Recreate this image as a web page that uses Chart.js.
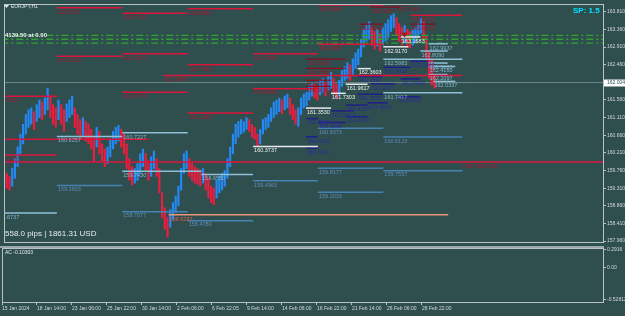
<!DOCTYPE html>
<html><head><meta charset="utf-8">
<script src="https://cdn.jsdelivr.net/npm/chart.js@4.4.0/dist/chart.umd.min.js"></script>
<style>
html,body{margin:0;padding:0;background:#2F4F4F;width:625px;height:316px;overflow:hidden}
#wrap{position:relative;width:625px;height:316px}
#c1{position:absolute;left:0;top:0}
#c2{position:absolute;left:0;top:246px}
</style></head><body>
<div id="wrap"><canvas id="c1" width="625" height="246"></canvas><canvas id="c2" width="625" height="70"></canvas></div>
<script>
// ---------- texts ----------
const symbolText = 'EURJPY,H1';
const spreadText = 'SP: 1.5';
const profitText = '558.0 pips | 1861.31 USD';
const indicatorText = 'AC -0.10303';
const tradeText = '4139.50 at 0.00';
const currentPrice = 162.004;

// ---------- axes ----------
const xTickBars = [0, 64, 128, 192, 256, 320, 384, 448, 512, 576, 640, 704, 768];
const xTickLabels = ['15 Jan 2024','18 Jan 14:00','23 Jan 06:00','25 Jan 22:00','30 Jan 14:00','2 Feb 06:00','6 Feb 22:05','9 Feb 14:00','14 Feb 06:00','16 Feb 22:00','21 Feb 14:00','26 Feb 06:00','28 Feb 22:00'];
const priceTicks = [163.81,163.36,162.91,162.46,161.56,161.11,160.66,160.21,159.76,159.31,158.86,158.41,157.96];
const acTicks = [0.2916, 0, -0.52812];
const acTickLabels = ['0.2916','0.00','-0.52812'];

// ---------- price bars (each entry spans 5 H1 bars) ----------
const candleStep = 5;
const candleHigh = [
159.76,159.69,159.61,159.81,160.06,160.36,160.69,160.94,161.19,161.31,
161.36,161.26,161.44,161.56,161.51,161.61,161.86,161.66,161.44,161.36,
161.56,161.44,161.31,161.46,161.56,161.66,161.36,161.19,161.06,161.11,
161.01,160.94,160.81,160.61,160.86,160.76,160.44,160.31,160.36,160.56,
160.76,160.86,160.91,160.81,160.69,160.44,160.06,159.86,159.81,159.94,
160.19,160.31,160.19,160.01,160.11,160.26,160.06,159.81,159.19,158.81,
158.56,158.76,158.94,159.11,159.36,159.81,160.19,160.26,160.06,159.94,
159.86,159.81,159.76,159.81,159.69,159.56,159.36,159.31,159.51,159.61,
159.69,159.76,160.06,160.36,160.69,160.94,161.01,161.06,161.01,161.11,
161.06,160.94,160.86,160.69,160.81,161.06,161.11,161.19,161.36,161.51,
161.56,161.61,161.56,161.66,161.71,161.61,161.44,161.31,161.36,161.61,
161.71,161.76,161.94,162.01,161.96,161.91,162.06,162.11,162.01,162.16,
162.26,162.11,161.96,162.06,162.31,162.41,162.51,162.46,162.61,162.76,
162.86,163.11,163.36,163.46,163.56,163.41,163.31,163.36,163.26,163.41,
163.51,163.61,163.71,163.76,163.66,163.51,163.41,163.46,163.36,163.31,
163.36,163.41,163.51,163.64,163.56,163.19,162.81,162.61,162.19];
const candleLow = [
159.44,159.31,159.26,159.36,159.56,159.86,160.19,160.44,160.69,160.86,
160.94,160.81,161.01,161.11,161.06,161.19,161.31,161.11,160.94,160.86,
161.06,160.94,160.76,161.01,161.11,161.19,160.86,160.69,160.56,160.66,
160.51,160.44,160.31,159.99,160.36,160.19,160.01,159.86,159.94,160.11,
160.31,160.44,160.51,160.36,160.19,159.81,159.51,159.39,159.44,159.51,
159.69,159.86,159.76,159.51,159.61,159.81,159.61,159.19,158.56,158.26,
158.06,158.31,158.51,158.69,158.86,159.26,159.69,159.81,159.61,159.51,
159.44,159.41,159.36,159.44,159.26,159.06,158.94,158.89,159.06,159.19,
159.26,159.36,159.56,159.86,160.19,160.44,160.61,160.69,160.74,160.81,
160.76,160.61,160.56,160.36,160.44,160.69,160.81,160.86,161.01,161.11,
161.19,161.26,161.21,161.31,161.36,161.19,161.06,160.94,160.89,161.19,
161.36,161.41,161.56,161.66,161.61,161.56,161.69,161.76,161.66,161.81,
161.86,161.71,161.61,161.69,161.91,162.06,162.11,162.06,162.21,162.36,
162.46,162.66,162.91,163.06,163.11,162.96,162.86,162.94,162.81,162.96,
163.06,163.16,163.31,163.41,163.21,163.06,162.96,163.01,162.91,162.89,
162.96,163.01,163.16,163.26,163.11,162.56,162.11,161.94,161.86];

// ---------- horizontal levels ----------
const levelPrice = [
161.6527,160.1527,158.6737,160.5600,
163.9117,162.6753,160.6257,159.3803,
163.7723,162.7377,161.7573,160.7227,159.7430,158.7077,
163.8860,162.4580,161.2280,159.6550,158.4780,
162.1843,158.6287,
162.7397,161.8483,160.3737,159.4963,
163.9853,162.9857,160.8373,159.8177,159.2033,
163.7200,160.6123,159.7557,162.5983,161.7417,
159.9758,159.9758,
163.9287,163.9900,163.4963,163.4963,162.6053,162.3650,162.0650,161.9050,
162.9170,162.3603,161.9617,161.7303,161.3530,163.1683,
162.1597,161.9727,161.7073,161.4297,161.4873,161.2813,161.1343,161.0847,160.9869,160.6200,160.3320,162.3938,162.0999,161.6430,162.5480,
162.8090,162.5023,162.4160,162.2097,162.0337,162.9937,
163.2100,163.1100,163.0100];
const levelFrom = [
-16,-16,-16,-5,
97,97,97,97,
217,217,217,217,217,217,
337,337,337,362,337,
292,302,
457,457,457,457,
576,576,576,576,576,
746,696,696,696,696,
-5,838,
673,718,651,746,554,554,554,554,
696,649,627,600,554,728,
649,673,649,627,667,600,627,554,576,554,554,696,728,722,746,
764,779,779,779,788,779,
-5,-5,-5];
const levelTo = [
97,97,97,265,
217,217,217,217,
337,337,337,337,362,337,
457,457,457,457,457,
841,815,
576,576,576,576,
696,696,696,696,696,
841,841,841,841,841,
838,1105,
728,746,695,792,627,627,600,600,
742,673,667,627,600,764,
695,718,695,667,704,642,667,576,627,576,576,746,764,764,779,
814,814,828,814,828,814,
1105,1105,1105];
const levelKind = [
'R','R','L','R',
'R','R','L','B',
'R','R','R','L','L','B',
'R','R','R','L','B',
'R','S',
'R','R','W','B',
'R','R','B','B','B',
'R','B','B','L','L',
'R','R',
'r','r','r','r','r','r','r','r',
'W','W','W','W','W','W',
'N','N','N','N','N','N','N','N','N','N','N','N','N','N','N',
'L','L','L','L','L','L',
'G','G','G'];
// null = show the level value, '' = no label
const levelLabel = [
null,null,null,'',
null,null,null,null,
null,null,null,null,null,null,
null,null,null,null,null,
null,null,
null,null,null,null,
null,null,null,null,null,
'163.9023',null,null,null,null,
'','YM3 159.9758',
null,'163.7598',null,null,null,null,null,null,
null,null,null,null,null,null,
null,null,null,null,null,null,null,null,null,null,null,null,null,null,null,
null,null,null,null,null,null,
'','',''];

// ---------- markers ----------
const arrowBar = [735];
const arrowPrice = [163.235];

// ---------- styles ----------
const UP = '#2389F5', DOWN = '#EE1C3E';
const KIND = {
  R:{line:'#DC143C', w:1.5, label:'#A8182E'},
  r:{line:'#8E0B1E', w:1.2, label:'#A01428'},
  W:{line:'#E6EAEA', w:1.5, label:'#EEF0F0'},
  L:{line:'#8EC0D8', w:1.5, label:'#86B4CC'},
  B:{line:'#4682B4', w:1.5, label:'#5F8DB6'},
  N:{line:'#1E1E8C', w:1.5, label:'#2A2AA0'},
  S:{line:'#E9967A', w:1.5, label:'#D8604A'},
  G:{line:'#2FA22F', w:1.3, label:'#2FA22F', dash:[7,3,2,3]}
};
const FG = '#B9C2C2';
const FONT = '"Liberation Sans", Arial, sans-serif';

Chart.defaults.font.family = FONT;
Chart.defaults.animation = false;

// ---------- datasets ----------
const mids = candleHigh.map((h,i)=>(h+candleLow[i])/2);
const candleColors = mids.map((m,i)=> (i===0 || m>=mids[i-1]) ? UP : DOWN);
const datasets = [];
datasets.push({
  type:'line', order:20, data:[{x:-5,y:currentPrice},{x:1105,y:currentPrice}],
  borderColor:'rgba(150,172,172,0.6)', borderWidth:1, pointRadius:0
});
datasets.push({
  type:'bar', order:10,
  data: candleHigh.map((h,i)=>({x:i*candleStep, y:[candleLow[i], h]})),
  backgroundColor: candleColors, borderWidth:0, barThickness:1.5, grouped:false
});
levelPrice.forEach((p,i)=>{
  const k = KIND[levelKind[i]];
  datasets.push({
    type:'line', order: levelKind[i]==='G' ? 3 : 1,
    data:[{x:levelFrom[i],y:p},{x:levelTo[i],y:p}],
    borderColor:k.line, borderWidth:k.w, borderDash:k.dash||[], pointRadius:0
  });
});
datasets.push({
  type:'scatter', order:0,
  data: arrowBar.map((b,i)=>({x:b,y:arrowPrice[i]})),
  pointStyle:'triangle', rotation:180, radius:3.5, backgroundColor:'#B0101E', borderWidth:0
});

const fitY = s => { s.width = 22; s.paddingTop = 0; s.paddingBottom = 0; };

const mainDecor = {
  id:'mainDecor',
  afterDatasetsDraw(chart){
    const {ctx, chartArea:a, scales:{x,y}} = chart;
    ctx.save();
    ctx.beginPath(); ctx.rect(a.left, a.top, a.right-a.left, a.bottom-a.top); ctx.clip();
    ctx.font = '5.5px ' + FONT; ctx.textBaseline = 'top'; ctx.textAlign = 'left';
    levelPrice.forEach((p,i)=>{
      let t = levelLabel[i];
      if (t === '') return;
      if (t === null) t = p.toFixed(4);
      ctx.fillStyle = KIND[levelKind[i]].label;
      ctx.fillText(t, x.getPixelForValue(levelFrom[i]) + 1, y.getPixelForValue(p) + 1.5);
    });
    ctx.restore();
  },
  afterDraw(chart){
    const {ctx, chartArea:a, scales:{y}} = chart;
    ctx.save();
    ctx.strokeStyle = FG; ctx.lineWidth = 1;
    ctx.strokeRect(a.left + 0.5, a.top + 0.5, a.right - a.left, a.bottom - a.top);
    const py = Math.round(y.getPixelForValue(currentPrice));
    ctx.fillStyle = '#FFFFFF';
    ctx.fillRect(a.right + 1, py - 3.5, 22, 7);
    ctx.fillStyle = '#2F4F4F'; ctx.font = '5px ' + FONT;
    ctx.textBaseline = 'middle'; ctx.textAlign = 'left';
    ctx.fillText(currentPrice.toFixed(3), a.right + 4, py);
    ctx.fillStyle = '#E2E6E6';
    ctx.beginPath(); ctx.moveTo(4, 5); ctx.lineTo(9, 5); ctx.lineTo(6.5, 8); ctx.closePath(); ctx.fill();
    ctx.font = '5px ' + FONT; ctx.fillText(symbolText, 11, 6.5);
    ctx.fillStyle = '#00E2FF'; ctx.font = 'bold 8px ' + FONT;
    ctx.fillText(spreadText, 573, 11);
    ctx.fillStyle = '#F2F2F2'; ctx.font = 'bold 6px ' + FONT;
    ctx.fillText(tradeText, 5, 35.5);
    ctx.fillStyle = '#E8ECEC'; ctx.font = '8px ' + FONT;
    ctx.fillText(profitText, 5, 234);
    ctx.restore();
  }
};

new Chart(document.getElementById('c1'), {
  type:'bar',
  data:{datasets},
  options:{
    responsive:false, devicePixelRatio:1, events:[],
    layout:{padding:{top:2,left:2,right:0,bottom:0}},
    plugins:{legend:{display:false}, tooltip:{enabled:false}},
    scales:{
      x:{type:'linear', display:false, min:0, max:1099, offset:false, grid:{offset:false}},
      y:{type:'linear', position:'right', min:157.935, max:164.01,
         afterBuildTicks: s => { s.ticks = priceTicks.map(v=>({value:v})); },
         afterFit: fitY,
         ticks:{color:'#D2D8D8', font:{size:5, family:FONT}, padding:1, callback:v=>Number(v).toFixed(3)},
         grid:{drawOnChartArea:false, drawTicks:true, tickLength:3, color:FG},
         border:{display:false}}
    }
  },
  plugins:[mainDecor]
});

const subDecor = {
  id:'subDecor',
  afterDraw(chart){
    const {ctx, chartArea:a} = chart;
    ctx.save();
    ctx.fillStyle = '#9AA8A8';
    ctx.fillRect(0, 0, a.right + 1, 2);
    ctx.strokeStyle = FG; ctx.lineWidth = 1;
    ctx.strokeRect(a.left + 0.5, a.top - 0.5, a.right - a.left, a.bottom - a.top + 1);
    ctx.fillStyle = '#E6EAEA'; ctx.font = '5px ' + FONT;
    ctx.textBaseline = 'middle'; ctx.textAlign = 'left';
    ctx.fillText(indicatorText, 5, 6.5);
    ctx.restore();
  }
};

new Chart(document.getElementById('c2'), {
  type:'line',
  data:{datasets:[{label:'AC', data:[], borderColor:'#2E8B57', pointRadius:0}]},
  options:{
    responsive:false, devicePixelRatio:1, events:[],
    layout:{padding:{top:3,left:2,right:0,bottom:0}},
    plugins:{legend:{display:false}, tooltip:{enabled:false}},
    scales:{
      x:{type:'linear', min:0, max:1099, offset:false,
         afterBuildTicks: s => { s.ticks = xTickBars.map(v=>({value:v})); },
         afterFit: s => { s.height = 14; s.paddingLeft = 0; s.paddingRight = 0; },
         ticks:{color:'#D2D8D8', font:{size:5, family:FONT}, padding:1, align:'start', autoSkip:false, maxRotation:0, minRotation:0,
                callback:(v,i)=>xTickLabels[i]},
         grid:{drawOnChartArea:false, drawTicks:true, tickLength:3, color:FG},
         border:{display:false}},
      y:{type:'linear', position:'right', min:-0.574, max:0.308,
         afterBuildTicks: s => { s.ticks = acTicks.map(v=>({value:v})); },
         afterFit: fitY,
         ticks:{color:'#D2D8D8', font:{size:5, family:FONT}, padding:1, callback:(v,i)=>acTickLabels[i]},
         grid:{drawOnChartArea:false, drawTicks:true, tickLength:3, color:FG},
         border:{display:false}}
    }
  },
  plugins:[subDecor]
});
</script>
</body></html>
